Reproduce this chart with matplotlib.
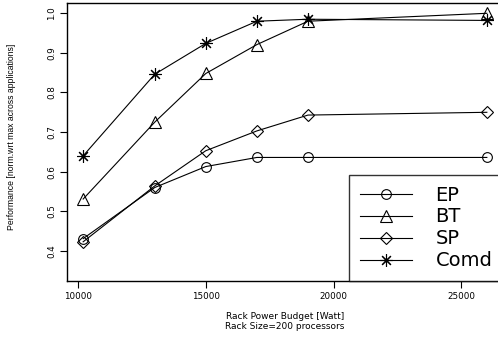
import numpy as np
import matplotlib
matplotlib.use('Agg')
import matplotlib.pyplot as plt

plt.rcParams['font.family'] = ['DejaVu Sans']

# data
budget = [10200, 13000, 15000, 17000, 19000, 26000]
ep = [0.431, 0.560, 0.613, 0.636, 0.636, 0.636]
bt = [0.531, 0.725, 0.848, 0.921, 0.980, 1.000]
sp = [0.423, 0.564, 0.653, 0.703, 0.743, 0.750]
comd = [0.640, 0.846, 0.924, 0.980, 0.985, 0.982]

series = [('EP', ep, 'o', 7), ('BT', bt, '^', 8), ('SP', sp, 'D', 6), ('Comd', comd, (8, 2, 0), 9)]

fig = plt.figure(figsize=(4.98, 3.39), dpi=100)
ax = fig.add_axes([67/498, 58/339, 436/498, 278/339])

for name, vals, mk, ms in series:
    ax.plot(budget, vals, color='black', lw=0.8, marker=mk, ms=ms,
            mfc='none', mec='black', mew=0.8, label=name)

ax.set_xlim(9568, 26632)
ax.set_ylim(0.324, 1.026)
ax.set_xticks([10000, 15000, 20000, 25000])
ax.set_yticks([0.4, 0.5, 0.6, 0.7, 0.8, 0.9, 1.0])
ax.set_yticklabels(['0.4', '0.5', '0.6', '0.7', '0.8', '0.9', '1.0'],
                   rotation=90, va='center')
ax.tick_params(labelsize=6.3, length=5, width=0.8, pad=3)
for s in ax.spines.values():
    s.set_linewidth(1.0)

ax.set_ylabel('Performance [norm.wrt max across applications]', fontsize=6.2,
              family='Liberation Sans')
ax.yaxis.set_label_coords(-0.117, 0.52)
ax.set_xlabel('Rack Power Budget [Watt]\nRack Size=200 processors', fontsize=6.5,
              linespacing=1.15)
ax.xaxis.set_label_coords(0.5, -0.112)

leg = ax.legend(loc='lower right', fontsize=14, frameon=True, fancybox=False,
                borderaxespad=0, handlelength=2.7, handletextpad=1.2,
                labelspacing=0.15, borderpad=0.55)
leg.get_frame().set_edgecolor('black')
leg.get_frame().set_linewidth(1.0)

fig.savefig('out.png', dpi=100)
